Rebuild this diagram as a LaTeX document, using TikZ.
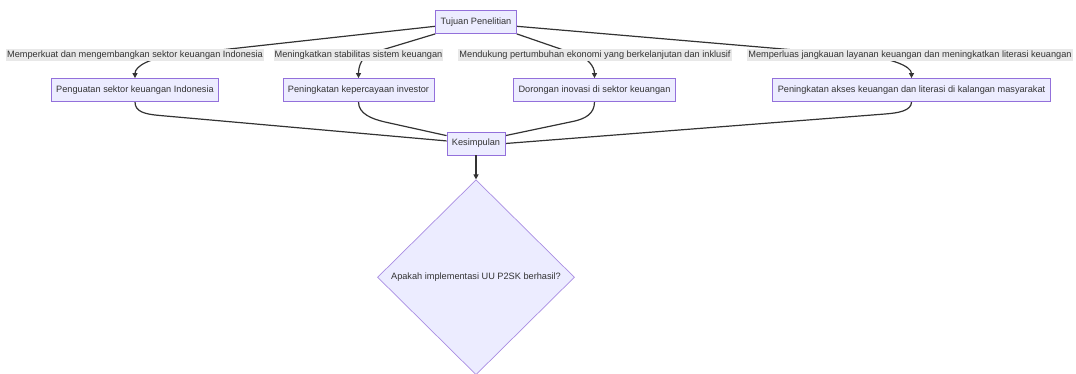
\documentclass[tikz,border=0pt]{standalone}
\usepackage{fontspec}
\setmainfont{Liberation Sans}
\usetikzlibrary{arrows.meta,backgrounds,positioning,shapes.geometric}
\definecolor{boxfill}{HTML}{ECECFF}
\definecolor{boxline}{HTML}{9370DB}
\definecolor{edgeline}{HTML}{333333}
\definecolor{lblfill}{HTML}{E8E8E8}
\tikzset{
  box/.style={draw=boxline, fill=boxfill, line width=0.8pt, minimum height=23pt, inner xsep=5pt, text=edgeline},
  decision/.style={draw=boxline!80, fill=boxfill, line width=0.7pt, diamond, aspect=1, minimum width=197pt, minimum height=195pt, inner sep=0pt, text=edgeline},
  lbl/.style={fill=lblfill, inner xsep=1pt, inner ysep=2pt, text=edgeline},
  flow/.style={draw=edgeline, line width=1.2pt},
  tip/.style={flow, -{Triangle[length=5pt,width=5pt]}},
}

\begin{document}
\begin{tikzpicture}[x=1pt, y=-1pt, font=\fontsize{9.2}{11}\selectfont]
\useasboundingbox (0,0) rectangle (1076,373);

\node[box] (tuj) at (476,22) {Tujuan Penelitian};

% labels on the edges
\node[lbl] (l1) at (135,55) {Memperkuat dan mengembangkan sektor keuangan Indonesia};
\node[lbl] (l2) at (358.5,55) {Meningkatkan stabilitas sistem keuangan};
\node[lbl] (l3) at (595,55) {Mendukung pertumbuhan ekonomi yang berkelanjutan dan inklusif};
\node[lbl] (l4) at (910,55) {Memperluas jangkauan layanan keuangan dan meningkatkan literasi keuangan};

\node[box] (b1) at (135,90) {Penguatan sektor keuangan Indonesia};
\node[box] (b2) at (358.5,90) {Peningkatan kepercayaan investor};
\node[box] (b3) at (594.5,90) {Dorongan inovasi di sektor keuangan};
\node[box] (b4) at (911.5,90) {Peningkatan akses keuangan dan literasi di kalangan masyarakat};

\node[box] (kes) at (476,143.5) {Kesimpulan};
\node[decision, below=24pt of kes] (dia) {Apakah implementasi UU P2SK berhasil?};

\begin{scope}[on background layer]
  \coordinate (c1) at (175,55);
  \coordinate (c2) at (372,53);
  \coordinate (c3) at (578,55);
  \coordinate (c4) at (865,56);
  \draw[tip] (tuj.186) -- (c1) .. controls +(-25,3) and +(0,-12) .. (b1.north);
  \draw[tip] (tuj.south west) -- (c2) .. controls +(-10,3) and +(0,-12) .. (b2.north);
  \draw[tip] (tuj.south east) -- (c3) .. controls +(9,3) and +(0,-12) .. (b3.north);
  \draw[tip] (tuj.-6) -- (c4) .. controls +(25,2) and +(0,-12) .. (b4.north);

  \coordinate (d1) at (160,115.5);
  \coordinate (d2) at (385,122);
  \coordinate (d3) at (575,121);
  \coordinate (d4) at (885,114);
  \draw[flow] (b1.south) .. controls +(0,10) and +(-15,-1.3) .. (d1) -- (kes.175);
  \draw[flow] (b2.south) .. controls +(0,12) and +(-13,-3) .. (d2) -- (kes.165);
  \draw[flow] (b3.south) .. controls +(0,12) and +(10,-2.5) .. (d3) -- (kes.15);
  \draw[flow] (b4.south) .. controls +(0,9) and +(13,-1) .. (d4) -- (kes.east);
\end{scope}

\draw[tip] (kes) -- (dia);
\end{tikzpicture}
\end{document}
